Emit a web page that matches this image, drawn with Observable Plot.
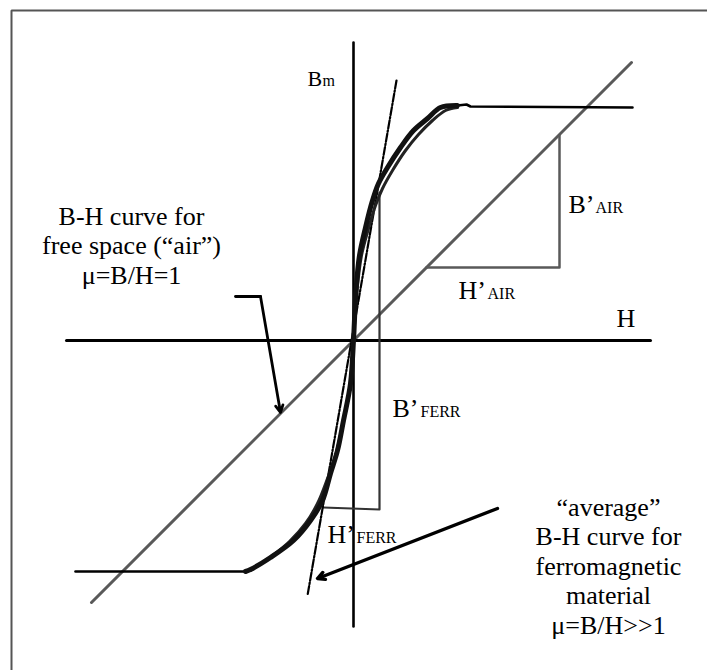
<!DOCTYPE html>
<html>
<head>
<meta charset="utf-8">
<script src="https://cdn.jsdelivr.net/npm/d3@7"></script>
<script src="https://cdn.jsdelivr.net/npm/@observablehq/plot@0.6"></script>
<style>
  html, body { margin: 0; padding: 0; background: #fff; overflow: hidden; }
  #chart svg { display: block; }
</style>
</head>
<body>
<div id="chart"></div>
<script>
// Units: H (x) and B (y) in arbitrary units, origin at the axes crossing.
const hAxis = [{H: -28.7, B: 0}, {H: 29.7, B: 0}];
const bAxis = [{H: 0, B: 29.8}, {H: 0, B: -28.6}];

// B-H line for free space (slope 1)
const airLine = [{H: -26.2, B: -26.2}, {H: 27.8, B: 27.8}];

// Saturation plateaus of the ferromagnetic curve
const satTop = [{H: 10.4, B: 23.5}, {H: 11.3, B: 23.6}, {H: 11.7, B: 23.4}, {H: 27.9, B: 23.3}];
const satBottom = [{H: -27.8, B: -23.1}, {H: -10.6, B: -23.1}];

// "average" B-H curve, descending branch (heavy)
const curveA = [
  {H: 10.4, B: 23.5}, {H: 8.7, B: 23.3}, {H: 7.4, B: 22.2}, {H: 6.0, B: 21.0},
  {H: 4.7, B: 19.3}, {H: 3.4, B: 17.3}, {H: 2.5, B: 15.7}, {H: 1.9, B: 14.0},
  {H: 1.2, B: 11.3}, {H: 0.6, B: 8.5}, {H: 0.25, B: 5.0}, {H: 0, B: 0},
  {H: -0.3, B: -4.3}, {H: -1.0, B: -8.0}, {H: -1.6, B: -11.0}, {H: -2.3, B: -13.3},
  {H: -3.1, B: -16.0}, {H: -4.3, B: -18.0}, {H: -6.0, B: -20.0}, {H: -8.3, B: -21.7},
  {H: -10.3, B: -22.9}, {H: -10.8, B: -23.1}
];
// second (ascending) branch, lighter
const curveB = [
  {H: 10.4, B: 23.3}, {H: 9.2, B: 23.0}, {H: 7.9, B: 22.0}, {H: 6.5, B: 20.6},
  {H: 5.2, B: 19.0}, {H: 3.9, B: 17.0}, {H: 2.9, B: 15.2}, {H: 2.2, B: 13.5},
  {H: 1.5, B: 11.2}, {H: 0.8, B: 8.5}, {H: 0.35, B: 5.0}, {H: 0, B: 0},
  {H: -0.4, B: -5.0}, {H: -1.1, B: -8.5}, {H: -1.8, B: -11.5}, {H: -2.6, B: -13.8},
  {H: -3.6, B: -16.3}, {H: -4.8, B: -18.3}, {H: -6.4, B: -20.1}, {H: -8.5, B: -21.8},
  {H: -10.3, B: -23.0}
];

// tangent (dash-dot) through the origin
const tangent = [{H: 4.3, B: 26.0}, {H: -4.6, B: -25.5}];

// slope triangles
const ferrTri = [{H: 2.6, B: 14.8}, {H: 2.6, B: -16.9}, {H: -3.0, B: -16.7}];
const airTri = [{H: 7.3, B: 7.3}, {H: 20.6, B: 7.3}, {H: 20.6, B: 20.5}];

// arrows
const leftArrowTail = [{H: -11.8, B: 4.4}, {H: -9.3, B: 4.4}];
const arrows = [
  {x1: -9.3, y1: 4.4, x2: -7.3, y2: -7.2, w: 2.8},
  {x1: 14.4, y1: -16.8, x2: -3.6, y2: -23.8, w: 3.4}
];

// border (top and left edges visible)
const border = [{H: -34.2, B: -34}, {H: -34.2, B: 33.0}, {H: 35.4, B: 33.0}];

// labels
const bigLabels = [
  {text: "H", H: 26.3, B: 1.4},
  {text: "B’", H: 21.5, B: 12.8},
  {text: "H’", H: 10.5, B: 4.2},
  {text: "B’", H: 3.9, B: -7.6},
  {text: "H’", H: -2.6, B: -20.2}
];
const axisLabel = [{text: "B", H: -4.6, B: 25.5}];
const subLabels = [
  {text: "m", H: -3.1, B: 25.5},
  {text: "AIR", H: 24.2, B: 12.8},
  {text: "AIR", H: 13.4, B: 4.2},
  {text: "FERR", H: 6.7, B: -7.6},
  {text: "FERR", H: 0.3, B: -20.2}
];
const notes = [
  {text: "B-H curve for\nfree space (“air”)\nμ=B/H=1", H: -22.2, B: 5.7},
  {text: "“average”\nB-H curve for\nferromagnetic\nmaterial\nμ=B/H>>1", H: 25.5, B: -29.3}
];

const serif = "Liberation Serif, Times New Roman, serif";

const chart = Plot.plot({
  width: 707,
  height: 670,
  margin: 0,
  x: {domain: [-35.3, 35.4], axis: null},
  y: {domain: [-33, 34], axis: null},
  style: {background: "#fff"},
  marks: [
    Plot.line(border, {x: "H", y: "B", stroke: "#555", strokeWidth: 2, strokeLinejoin: "miter"}),
    Plot.line(airLine, {x: "H", y: "B", stroke: "#595959", strokeWidth: 3}),
    Plot.line(airTri, {x: "H", y: "B", stroke: "#595959", strokeWidth: 2.5}),
    Plot.line(hAxis, {x: "H", y: "B", stroke: "#000", strokeWidth: 3}),
    Plot.line(bAxis, {x: "H", y: "B", stroke: "#000", strokeWidth: 2.6}),
    Plot.line(ferrTri, {x: "H", y: "B", stroke: "#333", strokeWidth: 2.2}),
    Plot.line(tangent, {x: "H", y: "B", stroke: "#000", strokeWidth: 2.2, strokeDasharray: "8,2,1.5,2"}),
    Plot.line(satTop, {x: "H", y: "B", stroke: "#000", strokeWidth: 2.6}),
    Plot.line(satBottom, {x: "H", y: "B", stroke: "#000", strokeWidth: 2.6}),
    Plot.line(curveB, {x: "H", y: "B", stroke: "#222", strokeWidth: 3, curve: "catmull-rom"}),
    Plot.line(curveA, {x: "H", y: "B", stroke: "#111", strokeWidth: 5, curve: "catmull-rom"}),
    Plot.line(leftArrowTail, {x: "H", y: "B", stroke: "#000", strokeWidth: 2.8}),
    Plot.arrow(arrows, {x1: "x1", y1: "y1", x2: "x2", y2: "y2", stroke: "#000", strokeWidth: "w", headAngle: 55, headLength: 12}),
    Plot.text(axisLabel, {x: "H", y: "B", text: "text", textAnchor: "start", lineAnchor: "bottom", fontSize: 22, fontFamily: serif, fill: "#000"}),
    Plot.text(bigLabels, {x: "H", y: "B", text: "text", textAnchor: "start", lineAnchor: "bottom", fontSize: 26, fontFamily: serif, fill: "#000"}),
    Plot.text(subLabels, {x: "H", y: "B", text: "text", textAnchor: "start", lineAnchor: "bottom", fontSize: 16, fontFamily: serif, fill: "#000"}),
    Plot.text(notes, {x: "H", y: "B", text: "text", textAnchor: "middle", lineAnchor: "bottom", lineHeight: 1.13, fontSize: 26, fontFamily: serif, fill: "#000"})
  ]
});
document.getElementById("chart").appendChild(chart);
</script>
</body>
</html>
